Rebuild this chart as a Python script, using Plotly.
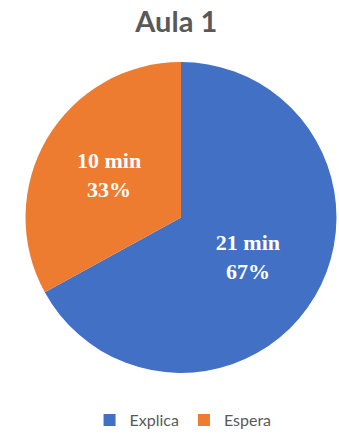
import plotly.graph_objects as go

categories = ["Explica", "Espera"]
percentages = [67, 33]
minutes = [21, 10]
colors = ["#4270C5", "#ED7B30"]

W, H = 339, 437
cx, cy, r = 181, 221, 158

fig = go.Figure(go.Pie(
    labels=categories,
    values=percentages,
    customdata=minutes,
    texttemplate="%{customdata} min<br>%{percent:.0%}",
    textposition="inside",
    insidetextorientation="horizontal",
    textfont=dict(family="Liberation Serif", size=22, color="white", weight="bold"),
    marker=dict(colors=colors, line=dict(width=0)),
    sort=False,
    direction="clockwise",
    rotation=0,
    hoverinfo="label+value+percent",
    domain=dict(x=[(cx - r) / W, (cx + r) / W], y=[1 - (cy + r) / H, 1 - (cy - r) / H]),
))

fig.update_layout(
    width=W, height=H,
    margin=dict(l=0, r=0, t=0, b=0),
    paper_bgcolor="white",
    plot_bgcolor="white",
    title=dict(text="<b>Aula 1</b>", x=0.52, xanchor="center", y=1 - 22 / H, yanchor="middle",
               font=dict(family="Lato", size=29, color="#595959")),
    legend=dict(orientation="h", x=0.54, xanchor="center", y=1 - 427 / H, yanchor="middle",
                font=dict(family="Lato", size=16, color="#595959"), itemwidth=30,
                tracegroupgap=0),
    showlegend=True,
)

fig.write_html("out.html")
